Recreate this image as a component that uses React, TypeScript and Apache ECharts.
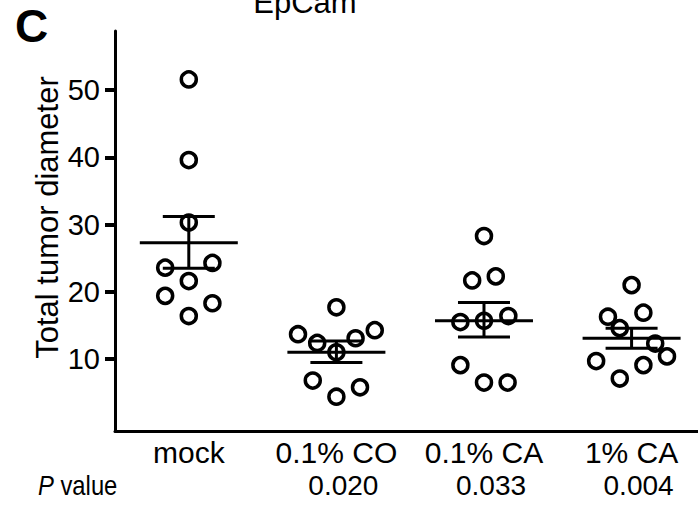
import React, { useEffect, useRef } from "react";
import * as echarts from "echarts";

const categories = ["mock", "0.1% CO", "0.1% CA", "1% CA"];
const pValues = ["", "0.020", "0.033", "0.004"];
const yTickValues = [10, 20, 30, 40, 50];

const mockValues = [51.6, 39.6, 30.3, 24.3, 23.6, 21.6, 19.4, 18.3, 16.4];
const mockJitter = [0, 0, 0, 0.16, -0.16, 0, -0.16, 0.16, 0];
const co01Values = [17.7, 14.3, 13.7, 13.1, 12.4, 11.0, 6.8, 5.8, 4.4];
const co01Jitter = [0, 0.26, -0.26, 0.13, -0.13, 0, -0.16, 0.16, 0];
const ca01Values = [28.3, 22.3, 21.7, 16.4, 15.7, 15.5, 9.1, 6.5, 6.5];
const ca01Jitter = [0, 0.08, -0.08, 0.165, 0, -0.16, -0.16, 0, 0.16];
const ca1Values = [21.0, 16.9, 16.3, 14.6, 12.3, 10.4, 9.7, 9.1, 7.1];
const ca1Jitter = [0, 0.08, -0.16, -0.08, 0.16, 0.24, -0.24, 0.08, -0.08];

const means = [27.3, 11.0, 15.7, 13.1];
const semUpper = [31.2, 12.7, 18.4, 14.6];
const semLower = [23.5, 9.5, 13.3, 11.6];

const FONT = "'Liberation Sans', Arial, Helvetica, sans-serif";

export default function App() {
  const ref = useRef<HTMLDivElement>(null);
  useEffect(() => {
    if (!ref.current) return;
    const chart = echarts.init(ref.current, null, { renderer: "svg" });
    const groups = [
      [mockValues, mockJitter],
      [co01Values, co01Jitter],
      [ca01Values, ca01Jitter],
      [ca1Values, ca1Jitter],
    ];
    const points: number[][] = [];
    groups.forEach(([vals, jit], gi) => {
      vals.forEach((v, i) => points.push([gi + jit[i], v]));
    });
    const summary = categories.map((_, i) => [i, means[i], semLower[i], semUpper[i]]);

    chart.setOption({
      animation: false,
      grid: { left: 115, right: 0, top: 31, bottom: 74 },
      xAxis: {
        type: "value",
        min: -0.5,
        max: 3.45,
        splitLine: { show: false },
        axisLine: { show: true, onZero: false, lineStyle: { color: "#000", width: 3 } },
        axisTick: { show: false },
        axisLabel: {
          customValues: [0, 1, 2, 3],
          margin: 5,
          formatter: (v: number) => {
            const i = Math.round(v);
            const p = pValues[i];
            return "{c|" + categories[i] + "}\n{p|" + (p || " ") + "}";
          },
          rich: {
            c: { fontSize: 30, fontFamily: FONT, color: "#000", lineHeight: 33 },
            p: { fontSize: 28, fontFamily: FONT, color: "#000", lineHeight: 33, padding: [0, 0, 0, 14] },
          },
        },
      },
      yAxis: {
        type: "value",
        min: -0.7,
        max: 58.8,
        splitLine: { show: false },
        axisLine: { show: true, onZero: false, lineStyle: { color: "#000", width: 3 } },
        axisTick: {
          show: true,
          customValues: yTickValues,
          length: 10,
          lineStyle: { color: "#000", width: 4 },
        },
        axisLabel: {
          customValues: yTickValues,
          margin: 15,
          fontSize: 29,
          fontFamily: FONT,
          color: "#000",
        },
      },
      graphic: [
        {
          type: "text",
          x: 15,
          y: 26,
          style: { text: "C", fontSize: 46, fontWeight: "bold", fontFamily: FONT, fill: "#000", verticalAlign: "middle", align: "left" },
        },
        {
          type: "text",
          x: 305,
          y: 2,
          style: { text: "EpCam", fontSize: 31, fontFamily: FONT, fill: "#000", verticalAlign: "middle", align: "center" },
        },
        {
          type: "text",
          x: 47,
          y: 217.5,
          rotation: Math.PI / 2,
          style: { text: "Total tumor diameter", fontSize: 31, fontFamily: FONT, fill: "#000", verticalAlign: "middle", align: "center" },
        },
        {
          type: "text",
          x: 38,
          y: 485,
          scaleX: 0.85,
          style: {
            text: "{i|P}{n| value}",
            verticalAlign: "middle",
            align: "left",
            rich: {
              i: { fontSize: 28, fontStyle: "italic", fontFamily: FONT, fill: "#000" },
              n: { fontSize: 28, fontFamily: FONT, fill: "#000" },
            },
          },
        },
      ],
      series: [
        {
          type: "custom",
          data: summary,
          z: 2,
          renderItem: (params: any, api: any) => {
            const x = api.value(0);
            const pm = api.coord([x, api.value(1)]);
            const pl = api.coord([x, api.value(2)]);
            const ph = api.coord([x, api.value(3)]);
            const style = { stroke: "#000", lineWidth: 3 };
            return {
              type: "group",
              children: [
                { type: "line", shape: { x1: pm[0] - 49, y1: pm[1], x2: pm[0] + 49, y2: pm[1] }, style },
                { type: "line", shape: { x1: ph[0] - 26, y1: ph[1], x2: ph[0] + 26, y2: ph[1] }, style },
                { type: "line", shape: { x1: pl[0] - 26, y1: pl[1], x2: pl[0] + 26, y2: pl[1] }, style },
                { type: "line", shape: { x1: ph[0], y1: ph[1], x2: pl[0], y2: pl[1] }, style },
              ],
            };
          },
        },
        {
          type: "scatter",
          data: points,
          symbol: "circle",
          symbolSize: 15,
          z: 3,
          itemStyle: { color: "rgba(0,0,0,0)", borderColor: "#000", borderWidth: 3.5, opacity: 1 },
        },
      ],
    });
    return () => chart.dispose();
  }, []);
  return <div ref={ref} style={{ position: "absolute", left: 0, top: 0, width: 698, height: 505 }} />;
}
